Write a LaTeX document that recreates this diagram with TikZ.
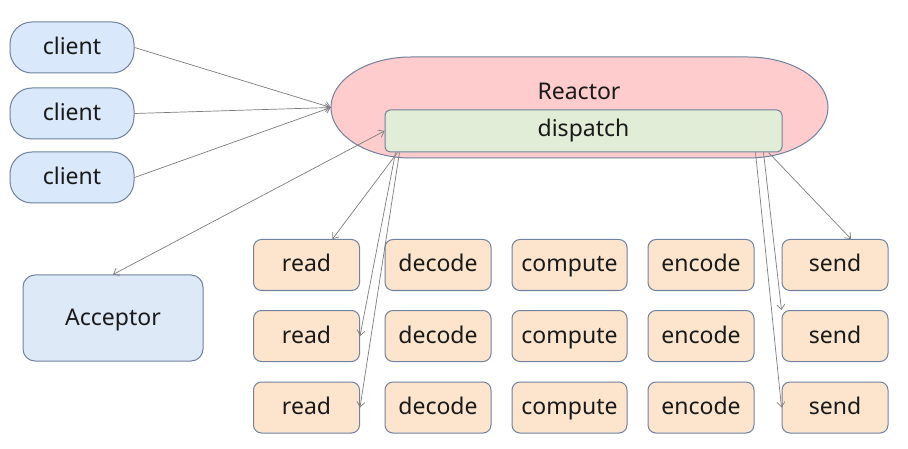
\documentclass[tikz,border=0pt]{standalone}
\usepackage{fontspec}
\setmainfont{Noto Sans}
\usetikzlibrary{arrows.meta}
\definecolor{bordc}{RGB}{112,130,160}
\definecolor{linec}{RGB}{125,125,125}
\definecolor{clientfill}{RGB}{218,232,251}
\definecolor{accfill}{RGB}{222,233,247}
\definecolor{reactfill}{RGB}{254,204,204}
\definecolor{dispfill}{RGB}{225,237,214}
\definecolor{taskfill}{RGB}{253,229,205}
\definecolor{txtc}{RGB}{25,25,25}
\begin{document}
\begin{tikzpicture}[x=1pt,y=-1pt,
  font=\fontsize{23}{27}\selectfont, text=txtc,
  basebox/.style={draw=bordc, line width=1pt, inner sep=0pt, text height=18pt, text depth=4pt},
  clientbox/.style={basebox, fill=clientfill, rounded corners=22pt, minimum width=124pt, minimum height=51pt},
  accbox/.style={basebox, fill=accfill, rounded corners=12pt, minimum width=180pt, minimum height=86pt},
  taskbox/.style={basebox, fill=taskfill, rounded corners=8pt, minimum width=106pt, minimum height=51pt},
  dispbox/.style={basebox, fill=dispfill, rounded corners=5pt, minimum width=397pt, minimum height=42pt, text height=16pt},
  link/.style={draw=linec, line width=0.7pt, -{Straight Barb[length=5pt,width=8pt]}},
  dlink/.style={draw=linec, line width=0.7pt, {Straight Barb[length=5pt,width=8pt]}-{Straight Barb[length=5pt,width=8pt]}}
]
\useasboundingbox (0,0) rectangle (908,449);
\fill[white] (0,0) rectangle (908,449);

% Reactor shape
\draw[bordc, line width=1pt, fill=reactfill]
  (411,57) -- (748,57) arc[start angle=90, end angle=-90, x radius=80pt, y radius=50.5pt]
  -- (411,158) arc[start angle=270, end angle=90, x radius=80pt, y radius=50.5pt] -- cycle;
\node[minimum width=497pt, minimum height=101pt, inner sep=0pt] (reactor) at (579.5,107.5) {};
\node[text height=18pt, text depth=4pt, inner sep=0pt] (reactortext) at (579,93) {Reactor};
\node[dispbox] (dispatch) at (583.5,131) {dispatch};

% clients
\node[clientbox] (client1) at (72,47.5) {client};
\node[clientbox] (client2) at (72,113.5) {client};
\node[clientbox] (client3) at (72,177.5) {client};

% acceptor
\node[accbox] (acceptor) at (113,318) {Acceptor};

% task grid
\foreach \r/\yy in {1/265, 2/336, 3/407.5} {
  \node[taskbox] (read\r) at (306.5,\yy) {read};
  \node[taskbox] (decode\r) at (438,\yy) {decode};
  \node[taskbox, minimum width=115pt] (compute\r) at (569.5,\yy) {compute};
  \node[taskbox] (encode\r) at (701,\yy) {encode};
  \node[taskbox] (send\r) at (835,\yy) {send};
}

% connectors
\draw[link] (client1.east) -- (reactor.west);
\draw[link] (client2.east) -- (reactor.west);
\draw[link] (client3.east) -- (reactor.west);
\draw[dlink] (acceptor.north) -- (dispatch.west);

\draw[link] ([xshift=13pt]dispatch.south west) -- ([xshift=26pt]read1.north);
\draw[link] ([xshift=11pt]dispatch.south west) -- (read2.east);
\draw[link] ([xshift=15pt]dispatch.south west) -- (read3.east);

\draw[link] ([xshift=-14pt]dispatch.south east) -- ([xshift=16pt]send1.north);
\draw[link] ([xshift=-19pt]dispatch.south east) -- (send2.north west);
\draw[link] ([xshift=-27pt]dispatch.south east) -- (send3.west);
\end{tikzpicture}
\end{document}
